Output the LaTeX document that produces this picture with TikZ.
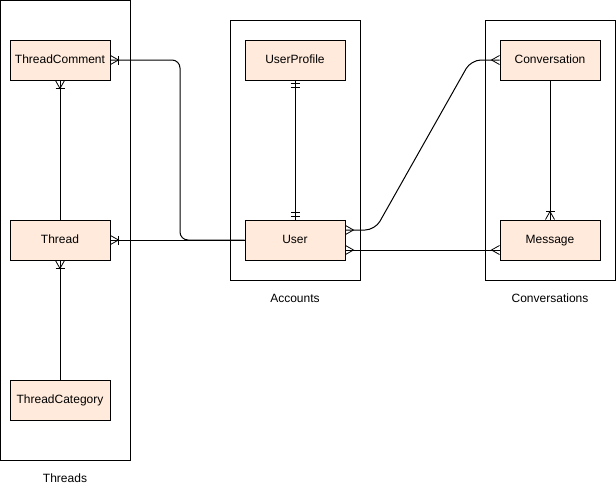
\documentclass[tikz,border=0pt]{standalone}
\usepackage{fontspec}
\setmainfont{Liberation Sans}
\usetikzlibrary{calc}
\definecolor{entfill}{HTML}{FFEADB}
\tikzset{
  entity/.style={draw, fill=entfill, line width=1pt, minimum width=100pt,
    minimum height=40pt, inner sep=0pt, text height=9.6pt, text depth=3pt,
    font=\fontsize{12}{14}\selectfont},
  group/.style={draw, line width=1pt, inner sep=0pt},
  grouplabel/.style={font=\fontsize{12}{14}\selectfont, inner sep=0pt},
  link/.style={line width=1pt},
  % ER end markers, drawn with the entity edge at the origin, pointing outward along +x
  pics/many/.style={code={\draw[line width=0.8pt] (0,4.5) -- (8,0) -- (0,-4.5);}},
  pics/onemany/.style={code={\draw[line width=0.8pt] (0,4.5) -- (8,0) -- (0,-4.5);
      \draw[line width=1pt] (8,4.5) -- (8,-4.5);}},
  pics/mandone/.style={code={\draw[line width=1pt] (3,4.5) -- (3,-4.5) (7,4.5) -- (7,-4.5);}},
}
\begin{document}
\begin{tikzpicture}[x=1pt, y=-1pt]
  \useasboundingbox (0,0) rectangle (616,491);

  % module frames
  \node[group, minimum width=129.5pt, minimum height=459.5pt] (gthreads) at (65.25,230.25) {};
  \node[group, minimum width=130pt, minimum height=260pt] (gaccounts) at (295,150) {};
  \node[group, minimum width=130pt, minimum height=260pt] (gconv) at (550,150) {};
  \node[grouplabel] (lthreads) at (65,478) {Threads};
  \node[grouplabel] (laccounts) at (295,298) {Accounts};
  \node[grouplabel] (lconv) at (550,298) {Conversations};

  % entities
  \node[entity] (tcomment) at (60,60) {ThreadComment};
  \node[entity] (thread) at (60,240) {Thread};
  \node[entity] (tcat) at (60,400) {ThreadCategory};
  \node[entity] (profile) at (295,60) {UserProfile};
  \node[entity] (user) at (295,240) {User};
  \node[entity] (conv) at (550,60) {Conversation};
  \node[entity] (msg) at (550,240) {Message};

  % relations
  \draw[link] (thread.north) -- (tcomment.south);
  \pic[rotate=-90] at (tcomment.south) {onemany};

  \draw[link] (tcat.north) -- (thread.south);
  \pic[rotate=-90] at (thread.south) {onemany};

  \draw[link] (user.west) -- (thread.east);
  \pic at (thread.east) {onemany};

  \draw[link, rounded corners=8pt] (user.west) -- (180,240) -- (180,60) -- (tcomment.east);
  \pic at (tcomment.east) {onemany};

  \draw[link] (profile.south) -- (user.north);
  \pic[rotate=-90] at (profile.south) {mandone};
  \pic[rotate=90] at (user.north) {mandone};

  \draw[link, rounded corners=10pt] ([yshift=10pt]user.east) -- (375,230) -- (471,60) -- (conv.west);
  \pic at ([yshift=10pt]user.east) {many};
  \pic[rotate=180] at (conv.west) {many};

  \draw[link] ([yshift=-10pt]user.east) -- ([yshift=-10pt]msg.west);
  \pic at ([yshift=-10pt]user.east) {many};
  \pic[rotate=180] at ([yshift=-10pt]msg.west) {many};

  \draw[link] (conv.south) -- (msg.north);
  \pic[rotate=90] at (msg.north) {onemany};
\end{tikzpicture}
\end{document}
